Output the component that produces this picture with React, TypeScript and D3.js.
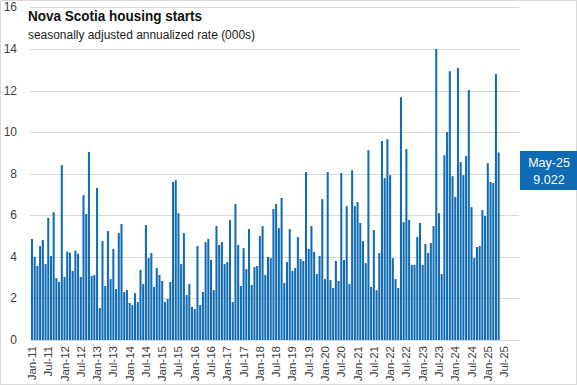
import React, { useEffect, useRef } from "react";
import * as d3 from "d3";

// monthly starts, Jan-11 .. May-25 (000s, SAAR)
const starts = [
  4.86, 4.0, 3.56, 4.52, 4.81, 3.65, 5.87, 4.04, 6.15, 2.98, 2.79, 8.41,
  3.03, 4.25, 4.2, 3.32, 4.3, 4.15, 3.03, 6.97, 6.06, 9.04, 3.08, 3.13,
  7.31, 1.54, 4.76, 2.6, 5.24, 2.93, 4.38, 2.45, 5.14, 5.58, 2.31, 2.4,
  1.78, 1.68, 2.26, 1.83, 3.37, 2.69, 5.53, 3.94, 4.18, 2.55, 3.46, 3.13,
  2.84, 1.83, 1.97, 2.79, 7.6, 7.69, 6.1, 3.65, 5.14, 2.16, 2.69, 1.59,
  1.49, 4.52, 1.68, 2.31, 4.71, 4.86, 3.85, 2.4, 5.48, 4.57, 4.71, 3.65,
  3.75, 5.77, 1.83, 6.54, 4.57, 2.6, 4.42, 3.41, 5.34, 2.64, 3.51, 3.56,
  5.0, 5.48, 3.13, 4.0, 3.94, 6.3, 6.54, 5.38, 6.83, 2.74, 3.75, 5.34,
  3.32, 3.46, 4.95, 3.89, 3.8, 8.08, 4.38, 5.48, 4.23, 3.17, 4.04, 6.78,
  2.93, 8.08, 2.88, 2.5, 3.8, 2.84, 8.03, 3.85, 6.44, 2.69, 8.17, 6.44,
  6.63, 5.63, 4.76, 3.7, 9.13, 2.55, 5.29, 2.4, 4.18, 9.57, 7.79, 9.66,
  7.93, 3.94, 2.93, 2.5, 11.68, 5.67, 9.18, 5.77, 3.61, 3.61, 4.95, 5.63,
  3.61, 4.62, 4.18, 4.66, 5.48, 14.0, 6.1, 3.17, 8.89, 10.0, 12.93, 7.88,
  6.88, 13.08, 8.56, 7.93, 8.85, 12.02, 6.39, 3.94, 4.47, 4.52, 6.25, 5.96,
  8.51, 7.6, 7.55, 12.79, 9.022,
];

// category axis runs Jan-11 through Dec-25
const months = d3.timeMonth.range(new Date(2011, 0, 1), new Date(2026, 0, 1));
const yTicks = [0, 2, 4, 6, 8, 10, 12, 14, 16];

const title = "Nova Scotia housing starts";
const subtitle = "seasonally adjusted annualized rate (000s)";
const calloutLabel = "May-25";

const fmt = d3.timeFormat("%b-%y");

const App = () => {
  const svgRef = useRef<SVGSVGElement>(null);

  useEffect(() => {
    const W = 577;
    const H = 385;
    const svg = d3.select(svgRef.current);
    svg.selectAll("*").remove();
    svg.attr("width", W).attr("height", H);

    const font = "'Liberation Sans', Arial, sans-serif";
    const blue = "#0f6bb4";

    svg
      .append("rect")
      .attr("x", 0.5)
      .attr("y", 0.5)
      .attr("width", W - 1)
      .attr("height", H - 1)
      .attr("fill", "#fff")
      .attr("stroke", "#d9d9d9");

    const x = d3
      .scaleBand<string>()
      .domain(months.map((d) => fmt(d)))
      .range([30.6, 519])
      .paddingInner(0.25)
      .paddingOuter(0.125);

    const y = d3.scaleLinear().domain([0, 16]).range([340, 7.4]);

    // gridlines
    svg
      .append("g")
      .selectAll("line")
      .data(yTicks)
      .join("line")
      .attr("x1", 30)
      .attr("x2", 519)
      .attr("y1", (d) => Math.round(y(d)) + 0.5)
      .attr("y2", (d) => Math.round(y(d)) + 0.5)
      .attr("stroke", "#d9d9d9")
      .attr("stroke-width", 1);

    // y labels
    svg
      .append("g")
      .selectAll("text")
      .data(yTicks)
      .join("text")
      .attr("x", 17)
      .attr("y", (d) => y(d) + 4)
      .attr("text-anchor", "end")
      .attr("font-family", font)
      .attr("font-size", 12)
      .attr("fill", "#404040")
      .text((d) => d);

    // bars
    svg
      .append("g")
      .selectAll("rect")
      .data(starts)
      .join("rect")
      .attr("x", (d, i) => x(fmt(months[i]))!)
      .attr("width", x.bandwidth())
      .attr("y", (d) => y(d))
      .attr("height", (d) => y(0) - y(d))
      .attr("fill", blue);

    // x labels every 6 months
    const tickMonths = months.filter((d, i) => i % 6 === 0);
    svg
      .append("g")
      .selectAll("text")
      .data(tickMonths)
      .join("text")
      .attr("transform", (d) => {
        const cx = x(fmt(d))! + x.bandwidth() / 2 + 4;
        return `translate(${cx},346) rotate(-90)`;
      })
      .attr("text-anchor", "end")
      .attr("font-family", font)
      .attr("font-size", 11.5)
      .attr("fill", "#404040")
      .text((d) => fmt(d));

    // title block
    svg
      .append("text")
      .attr("x", 28)
      .attr("y", 21)
      .attr("font-family", "'Liberation Sans Narrow', 'Liberation Sans', Arial, sans-serif")
      .attr("font-weight", "bold")
      .attr("font-size", 15.5)
      .attr("textLength", 174)
      .attr("lengthAdjust", "spacingAndGlyphs")
      .attr("fill", "#111")
      .text(title);

    svg
      .append("text")
      .attr("x", 28)
      .attr("y", 39)
      .attr("font-family", font)
      .attr("font-size", 12)
      .attr("textLength", 227)
      .attr("lengthAdjust", "spacingAndGlyphs")
      .attr("fill", "#222")
      .text(subtitle);

    // latest value callout
    const last = starts[starts.length - 1];
    const callout = svg.append("g");
    callout
      .append("rect")
      .attr("x", 520)
      .attr("y", 151)
      .attr("width", 57)
      .attr("height", 39)
      .attr("fill", blue);
    callout
      .append("text")
      .attr("x", 549)
      .attr("y", 167)
      .attr("text-anchor", "middle")
      .attr("font-family", font)
      .attr("font-size", 12.5)
      .attr("fill", "#fff")
      .text(calloutLabel);
    callout
      .append("text")
      .attr("x", 549)
      .attr("y", 184)
      .attr("text-anchor", "middle")
      .attr("font-family", font)
      .attr("font-size", 12.5)
      .attr("fill", "#fff")
      .text(d3.format(".3f")(last));
  }, []);

  return (
    <svg
      ref={svgRef}
      style={{ position: "absolute", left: 0, top: 0, display: "block" }}
    />
  );
};

export default App;
